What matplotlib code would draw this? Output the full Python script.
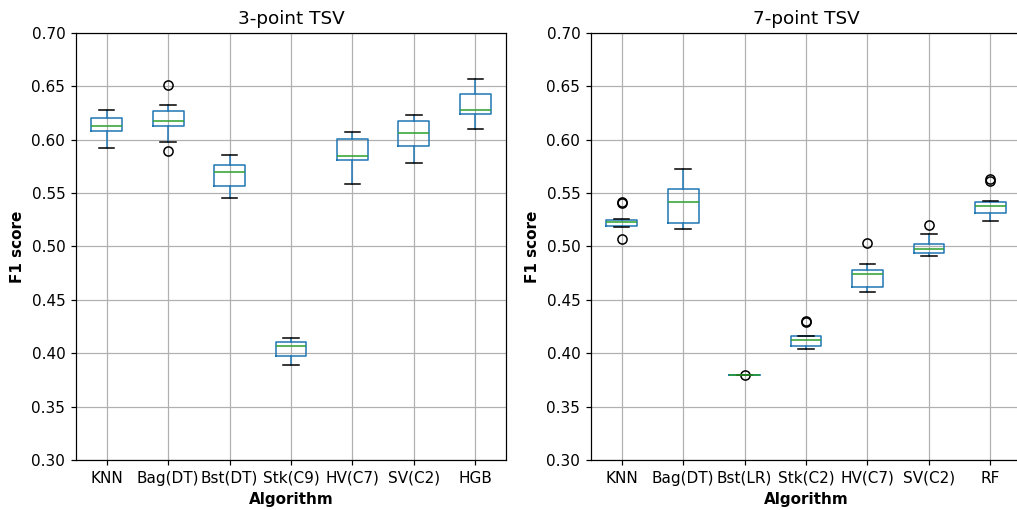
import matplotlib
matplotlib.use("Agg")
import matplotlib.pyplot as plt

# box summaries per algorithm: whislo, q1, med, q3, whishi
algos_3 = ["KNN", "Bag(DT)", "Bst(DT)", "Stk(C9)", "HV(C7)", "SV(C2)", "HGB"]
whislo_3 = [0.592, 0.598, 0.545, 0.389, 0.559, 0.578, 0.610]
q1_3 = [0.608, 0.613, 0.557, 0.397, 0.581, 0.594, 0.624]
med_3 = [0.613, 0.618, 0.570, 0.407, 0.585, 0.606, 0.628]
q3_3 = [0.620, 0.627, 0.576, 0.411, 0.601, 0.618, 0.643]
whishi_3 = [0.628, 0.633, 0.586, 0.414, 0.607, 0.623, 0.657]
fliers_3 = [[], [0.651, 0.589], [], [], [], [], []]

algos_7 = ["KNN", "Bag(DT)", "Bst(LR)", "Stk(C2)", "HV(C7)", "SV(C2)", "RF"]
whislo_7 = [0.518, 0.516, 0.380, 0.404, 0.457, 0.491, 0.524]
q1_7 = [0.519, 0.522, 0.380, 0.407, 0.462, 0.494, 0.531]
med_7 = [0.5225, 0.542, 0.380, 0.412, 0.474, 0.498, 0.538]
q3_7 = [0.525, 0.554, 0.380, 0.416, 0.478, 0.502, 0.542]
whishi_7 = [0.526, 0.573, 0.380, 0.416, 0.484, 0.512, 0.543]
fliers_7 = [[0.542, 0.541, 0.507], [], [0.380], [0.430, 0.429], [0.503], [0.520], [0.563, 0.561]]


def make_stats(names, lo, a, m, b, hi, fl):
    out = []
    for i in range(len(names)):
        out.append(dict(label=names[i], whislo=lo[i], q1=a[i], med=m[i],
                        q3=b[i], whishi=hi[i], fliers=fl[i]))
    return out


def draw(ax, stats, title):
    ax.bxp(stats,
           boxprops=dict(color="C0"),
           whiskerprops=dict(color="C0"),
           capprops=dict(color="k"),
           medianprops=dict(color="C2"),
           flierprops=dict(marker="o", markeredgecolor="k", markerfacecolor="none"))
    ax.set_ylim(0.30, 0.70)
    ax.set_yticks([0.30, 0.35, 0.40, 0.45, 0.50, 0.55, 0.60, 0.65, 0.70])
    ax.grid(True)
    ax.set_axisbelow(True)
    ax.set_title(title, fontsize=12)
    ax.set_xlabel("Algorithm", fontweight="bold")
    ax.set_ylabel("F1 score", fontweight="bold")


DPI = 110
fig = plt.figure(figsize=(1018 / DPI, 510 / DPI), dpi=DPI)
ax1 = fig.add_axes([76 / 1018, 50 / 510, 430 / 1018, 427 / 510])
ax2 = fig.add_axes([591 / 1018, 50 / 510, 430 / 1018, 427 / 510])

draw(ax1, make_stats(algos_3, whislo_3, q1_3, med_3, q3_3, whishi_3, fliers_3), "3-point TSV")
draw(ax2, make_stats(algos_7, whislo_7, q1_7, med_7, q3_7, whishi_7, fliers_7), "7-point TSV")

fig.savefig("out.png", dpi=DPI)
